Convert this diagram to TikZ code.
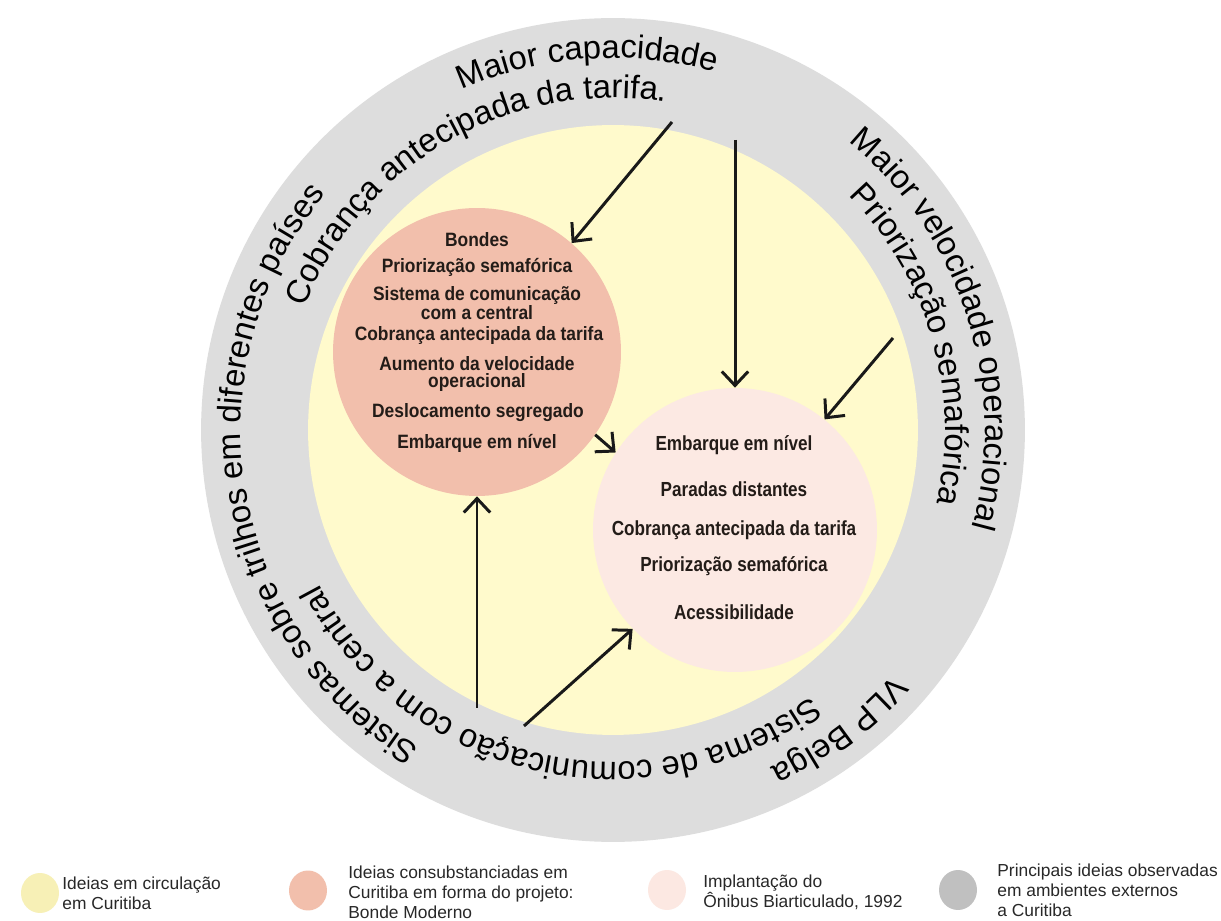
\documentclass[tikz,border=0pt]{standalone}
\usepackage{fontspec}
\setmainfont{Liberation Sans}
\newfontfamily\curvefont{Liberation Sans}
\newfontfamily\salmfont[FakeStretch=0.9]{Liberation Sans}
\newfontfamily\pinkfont[FakeStretch=0.84]{Liberation Sans}
\usetikzlibrary{decorations.text,arrows.meta,shapes.geometric}
\definecolor{ringgray}{RGB}{221,221,221}
\definecolor{ideayellow}{RGB}{255,250,204}
\definecolor{bondesalmon}{RGB}{242,191,172}
\definecolor{onibuspink}{RGB}{252,233,227}
\definecolor{legyellow}{RGB}{247,240,182}
\definecolor{legsalmon}{RGB}{242,191,172}
\definecolor{legpink}{RGB}{252,232,226}
\definecolor{leggray}{RGB}{192,192,192}
\definecolor{inktext}{RGB}{35,28,24}
\definecolor{arrowink}{RGB}{25,25,25}
\definecolor{legink}{RGB}{40,40,40}
\newcommand{\ringtext}[4]{%
  \path[decorate, decoration={text along path, text align=center,
     text={|\curvefont\fontsize{18.7}{22}\selectfont|#4}}]
  (ctr) ++({#2+#3}:#1) arc[start angle={#2+#3}, end angle={#2-#3}, radius=#1];}
\tikzset{
  disc/.style={circle, inner sep=0pt, draw=none},
  salmtxt/.style={font=\salmfont\bfseries\fontsize{11}{9.3}\selectfont, align=center, text=inktext, inner sep=0pt},
  pinktxt/.style={font=\pinkfont\bfseries\fontsize{11.6}{13}\selectfont, align=center, text=inktext, inner sep=0pt},
  legtxt/.style={font=\fontsize{9.9}{11.3}\selectfont, align=left, anchor=west, inner sep=0pt, text=legink},
  legdot/.style={ellipse, inner sep=0pt, draw=none, minimum width=0.76cm, minimum height=0.8cm},
  arr/.style={line width=1.7pt, draw=arrowink, -{Straight Barb[length=8pt,width=15pt,line width=1.7pt]}},
}
\begin{document}
\begin{tikzpicture}[x=0.02cm,y=0.02cm]
\useasboundingbox (0,0) rectangle (1221,920);
\fill[white] (0,0) rectangle (1221,920);
\coordinate (ctr) at (613,490);
% circles
\node[disc, fill=ringgray, minimum size=16.48cm] (ring) at (ctr) {};
\node[disc, fill=ideayellow, minimum size=12.2cm] (circ) at (ctr) {};
\node[disc, fill=bondesalmon, minimum size=5.76cm] (bonde) at (477,568) {};
\node[disc, fill=onibuspink, minimum size=5.68cm] (onibus) at (735,390) {};
% curved texts (clockwise, tops outward)
\ringtext{372}{94}{45}{Maior capacidade}
\ringtext{332}{119.6}{50}{Cobrança antecipada da tarifa.}
\ringtext{372}{189.6}{60}{Sistemas sobre trilhos em diferentes países}
\ringtext{372}{17.8}{42}{Maior velocidade operacional}
\ringtext{332}{16}{36}{Priorização semafórica}
\ringtext{372}{-53}{20}{VLP Belga}
\ringtext{332}{-102.8}{60}{Sistema de comunicação com a central}
% texts in salmon circle
\node[salmtxt] (b1) at (477,680) {Bondes};
\node[salmtxt] (b2) at (477,653) {Priorização semafórica};
\node[salmtxt] (b3) at (477,617) {Sistema de comunicação\\com a central};
\node[salmtxt] (b4) at (479,584) {Cobrança antecipada da tarifa};
\node[salmtxt] (b5) at (477,546) {Aumento da velocidade\\operacional};
\node[salmtxt] (b6) at (478,507) {Deslocamento segregado};
\node[salmtxt] (b7) at (477,477) {Embarque em nível};
% texts in pink circle
\node[pinktxt] (p1) at (734,475) {Embarque em nível};
\node[pinktxt] (p2) at (734,431) {Paradas distantes};
\node[pinktxt] (p3) at (734,390) {Cobrança antecipada da tarifa};
\node[pinktxt] (p4) at (734,354) {Priorização semafórica};
\node[pinktxt] (p5) at (734,308) {Acessibilidade};
% arrows
\coordinate (a1) at (672,798);
\coordinate (a2) at (735,780);
\coordinate (a3) at (893,582);
\coordinate (a5) at (477,212);
\coordinate (a6) at (524,194);
\draw[arr] (a1) -- (bonde.49);
\draw[arr] (a2) -- (onibus.north);
\draw[arr] (a3) -- (onibus.51);
\draw[arr] (bonde.-35) -- (onibus.147);
\draw[arr] (a5) -- (bonde.south);
\draw[arr] (a6) -- (onibus.224);
% legend
\node[legdot, fill=legyellow] (ly) at (40,27) {};
\node[legtxt] (lyt) at (62,26.5) {Ideias em circulação\\em Curitiba};
\node[legdot, fill=legsalmon] (ls) at (308,29.5) {};
\node[legtxt] (lst) at (348,28) {Ideias consubstanciadas em\\Curitiba em forma do projeto:\\Bonde Moderno};
\node[legdot, fill=legpink] (lp) at (667,30) {};
\node[legtxt] (lpt) at (703,28) {Implantação do\\Ônibus Biarticulado, 1992};
\node[legdot, fill=leggray] (lg) at (958,30) {};
\node[legtxt] (lgt) at (997,30) {Principais ideias observadas\\em ambientes externos\\a Curitiba};
\end{tikzpicture}
\end{document}
